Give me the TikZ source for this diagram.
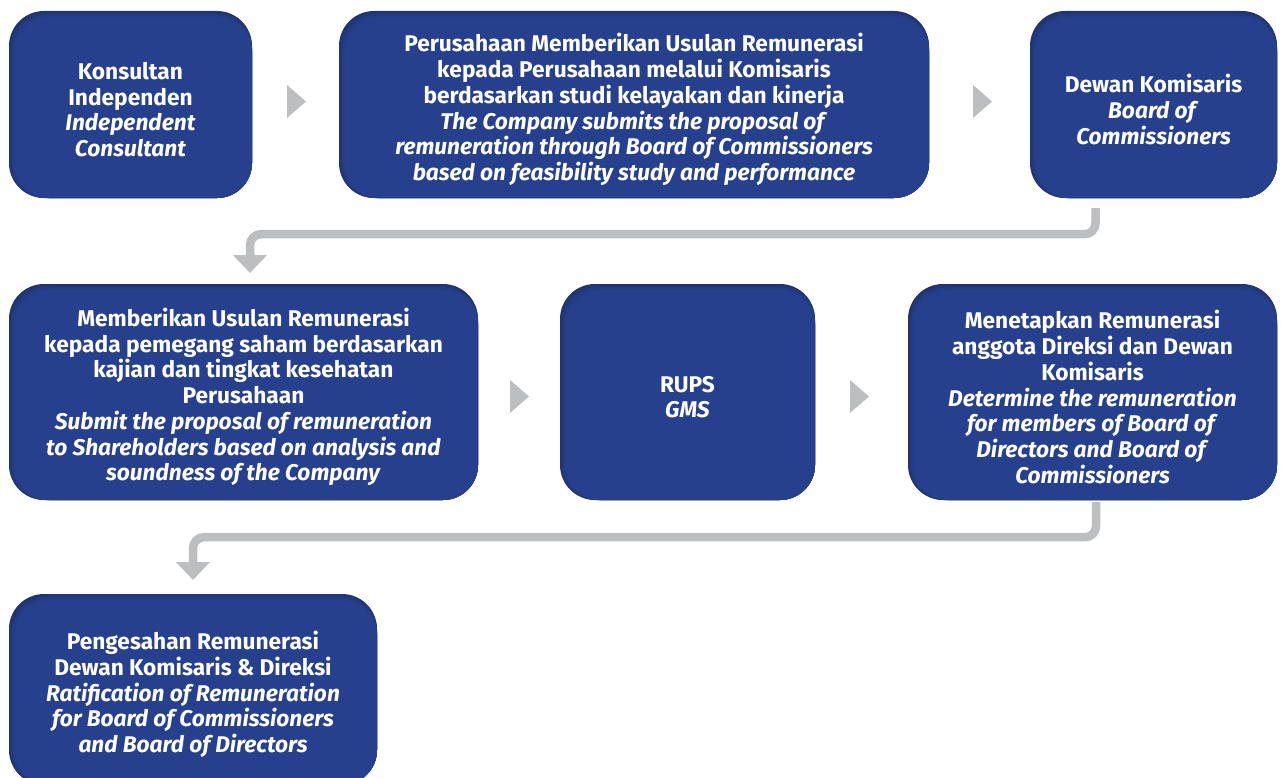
\documentclass[tikz,border=0pt]{standalone}
\usepackage{fontspec}
\setmainfont{Fira Sans}
\usetikzlibrary{arrows.meta,calc}
\definecolor{bz0}{HTML}{203470}
\definecolor{bz1}{HTML}{223778}
\definecolor{bz2}{HTML}{243B80}
\definecolor{bz3}{HTML}{253E88}
\definecolor{bz4}{HTML}{26408D}
\definecolor{conng}{HTML}{BDBEC0}
\tikzset{
  boxtext/.style={inner sep=0pt, align=center, text=white,
    font=\fontsize{22.7}{25.7}\selectfont\bfseries},
  conn/.style={draw=conng, line width=8.5pt, rounded corners=11pt,
    -{Triangle[length=18pt,width=33pt]}},
  chevron/.style={fill=conng, draw=none},
}
\newcommand\flowbox[6]{%
  \foreach \i/\c in {0/bz0,1/bz1,2/bz2,3/bz3,4/bz4}{%
    \fill[\c, rounded corners=35pt] ({#2+1.4*\i},{#3+1.6*\i}) rectangle (#4,#5);}
  \node[boxtext, minimum width={(#4-#2)*1pt}, minimum height={(#5-#3)*1pt}]
    (#1) at ({(#2+#4)/2},{(#3+#5)/2+5}) {#6};
}
\begin{document}
\begin{tikzpicture}[x=1pt,y=-1pt]
\useasboundingbox (0,0) rectangle (1281,778);
\flowbox{A}{9}{11}{252}{198}{Konsultan\\Independen\\\textit{Independent}\\\textit{Consultant}}
\flowbox{B}{339}{11}{929}{198}{Perusahaan Memberikan Usulan Remunerasi\\kepada Perusahaan melalui Komisaris\\berdasarkan studi kelayakan dan kinerja\\\textit{The Company submits the proposal of}\\\textit{remuneration through Board of Commissioners}\\\textit{based on feasibility study and performance}}
\flowbox{C}{1030}{11}{1277}{198}{Dewan Komisaris\\\textit{Board of}\\\textit{Commissioners}}
\flowbox{D}{9}{284}{478}{500}{Memberikan Usulan Remunerasi\\kepada pemegang saham berdasarkan\\kajian dan tingkat kesehatan\\Perusahaan\\\textit{Submit the proposal of remuneration}\\\textit{to Shareholders based on analysis and}\\\textit{soundness of the Company}}
\flowbox{E}{560}{284}{815}{500}{RUPS\\\textit{GMS}}
\flowbox{F}{908}{284}{1277}{500}{Menetapkan Remunerasi\\anggota Direksi dan Dewan\\Komisaris\\\textit{Determine the remuneration}\\\textit{for members of Board of}\\\textit{Directors and Board of}\\\textit{Commissioners}}
\flowbox{G}{9}{594}{377}{785}{Pengesahan Remunerasi\\Dewan Komisaris \& Direksi\\\textit{Ratification of Remuneration}\\\textit{for Board of Commissioners}\\\textit{and Board of Directors}}
% chevrons
\path ($(A.east)!0.5!(B.west)$) ++(1,-8) coordinate (t1);
\path ($(B.east)!0.5!(C.west)$) ++(3,-8) coordinate (t2);
\path ($(D.east)!0.5!(E.west)$) ++(0.5,-0.5) coordinate (t3);
\path ($(E.east)!0.5!(F.west)$) ++(-2,-0.5) coordinate (t4);
\foreach \t in {t1,t2,t3,t4}{\fill[chevron] (\t) ++(-9.5,-16.5) -- ++(19,16.5) -- ++(-19,16.5) -- cycle;}
% connectors
\coordinate (k1s) at ($(C.south)+(-58,5)$);
\coordinate (k1e) at (250,273);
\draw[conn] (k1s) -- ++(0,26) -| (k1e);
\coordinate (k2s) at ($(F.south)+(3.5,-3)$);
\coordinate (k2e) at (193,580);
\draw[conn] (k2s) -- ++(0,35) -| (k2e);
\end{tikzpicture}
\end{document}
